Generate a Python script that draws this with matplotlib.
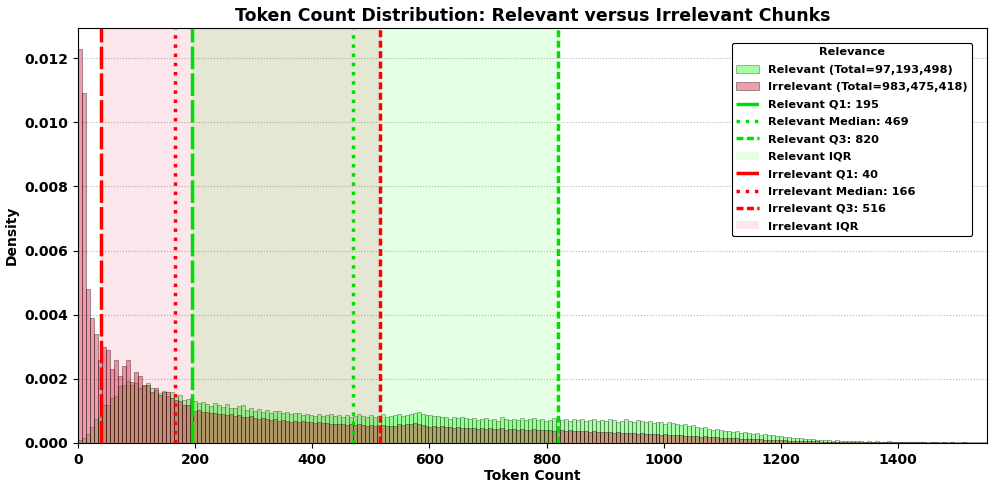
import matplotlib.pyplot as plt
import numpy as np

# histogram heights (density, x1e-4), bins of 6.8 tokens starting at 0
relevant = [
    1, 1.5, 2.7, 5, 7.4, 8, 11.8, 11.7, 14, 14.5, 17.7, 18.2, 19.3, 18.2, 18.6,
    17.2, 17.7, 18.6, 17.2, 16.5, 15.7, 16.2, 14.6, 16, 14.6, 15, 13.5, 13.7, 14, 13,
    12.6, 12.9, 12.2, 11.6, 12.5, 11.8, 11.3, 12.2, 11.0, 10.8, 11.5, 11.7, 10.4,
    10.9, 10.0, 10.6, 9.8, 10.3, 9.4, 9.9, 10.1, 9.2, 9.6, 9.0, 9.5, 9.4, 8.7, 9.1,
    8.8, 8.5, 9.0, 8.3, 8.7, 8.9, 8.4,
    8.6, 8.2, 8.8, 8.0, 8.4, 9.0, 8.3, 8.1, 8.6, 8.0, 8.5, 8.9, 8.2, 8.4, 8.7, 9.1,
    8.5, 8.8, 9.0, 9.4, 9.6, 9.0, 8.7, 8.7, 8.3, 8.5, 8.0, 8.2, 7.6, 8.0, 7.8, 8.1, 7.7,
    7.5, 7.9, 7.3, 7.6, 7.8, 7.2, 7.5, 7.0, 8.0, 7.4, 7.2, 7.6, 7.3, 7.7, 7.1, 7.4,
    7.8, 7.2, 7.6, 7.0, 7.3, 7.7, 7.5, 7.1, 7.4, 6.9, 7.6, 7.2, 7.5, 7.0, 7.3, 7.6, 6.9,
    7.2, 6.8, 7.5, 7.1, 6.7, 7.0, 7.4, 6.8, 6.6, 7.1, 6.9, 6.5, 6.8, 6.3, 6.7, 6.4,
    6.0, 6.5, 6.2, 5.8, 5.5, 6.0, 5.3, 5.6, 5.0, 4.7, 5.1, 4.5, 4.2, 4.4, 3.9, 3.7,
    3.8, 3.4, 3.6, 3.2, 3.4, 3.0, 2.8, 3.0, 2.6, 2.7, 2.4, 2.5, 2.1, 2.2, 1.9, 2.0,
    1.7, 1.5, 1.6, 1.3, 1.2, 1.3, 1.0, 0.9, 1.0, 0.8, 0.7, 0.9, 0.6, 0.7, 0.5, 0.6, 0.5,
    0.5, 0.4, 0.6, 0.4, 0.5, 0.3, 0.4, 0.5, 0.3, 0.4, 0.3, 0.4, 0.3, 0.4, 0.3, 0.3,
    0.4, 0.2, 0.3, 0.3, 0.2, 0.3, 0.3, 0.2, 0.2, 0.3, 0.2, 0.2, 0.2, 0.3, 0.2, 0.2,
]
irrelevant = [
    123, 109, 48, 39, 34, 26, 30, 29, 23, 26, 21, 24, 26, 19, 22, 21, 18, 18, 16, 17,
    15, 16, 16, 14, 13.5, 13, 12, 12, 11.5, 10,
    10.2, 9.6, 9.8, 9.2, 9.5, 8.9, 9.1, 8.7, 8.9, 8.4, 8.6, 8.2, 8.0, 8.3, 7.8, 7.6,
    7.9, 7.4, 7.2, 7.5, 7.0, 7.3, 6.9, 6.7, 7.0, 6.6, 6.8, 6.4, 6.5, 6.2, 6.4, 6.1,
    6.3, 5.9, 6.0,
    5.8, 6.0, 5.7, 5.9, 5.5, 5.8, 5.6, 5.4, 5.7, 5.3, 5.5, 5.6, 5.2, 5.4, 5.3, 5.8,
    5.5, 5.9, 6.0, 6.2, 5.9, 5.6, 5.3, 5.1, 5.3, 5.0, 5.2, 4.9, 5.0, 4.8, 4.9, 4.7, 4.8,
    4.6, 4.8, 4.5, 4.7, 4.4, 4.6, 4.3, 4.5, 4.6, 4.2, 4.4, 4.3, 4.1, 4.4, 4.2, 4.0,
    4.3, 4.1, 3.9, 4.2, 4.0, 3.8, 4.1, 3.9, 3.7, 3.9, 3.8, 3.6, 3.8, 3.6, 3.5, 3.7, 3.4,
    3.5, 3.3, 3.4, 3.2, 3.3, 3.1, 3.2, 3.0, 3.1, 2.9, 3.0, 2.8, 2.9, 2.7, 2.8, 2.6,
    2.7, 2.5, 2.6, 2.4, 2.5, 2.3, 2.2, 2.3, 2.1, 2.0, 2.1, 1.9, 1.8, 1.9, 1.7, 1.6,
    1.6, 1.5, 1.5, 1.4, 1.3, 1.3, 1.2, 1.2, 1.1, 1.0, 1.0, 0.9, 0.9, 0.8, 0.8, 0.7,
    0.7, 0.7, 0.6, 0.6, 0.5, 0.5, 0.5, 0.4, 0.4, 0.4, 0.4, 0.3, 0.3, 0.3, 0.3, 0.3, 0.3,
    0.3, 0.2, 0.3, 0.2, 0.2, 0.2, 0.3, 0.2, 0.2, 0.2, 0.2, 0.2, 0.2, 0.2, 0.2, 0.2,
    0.2, 0.1, 0.2, 0.2, 0.1, 0.2, 0.1, 0.2, 0.1, 0.1, 0.2, 0.1, 0.1, 0.1, 0.1, 0.1,
]
bin_width = 6.8

totals = {'Relevant': '97,193,498', 'Irrelevant': '983,475,418'}
rel_q = [195, 469, 820]   # Q1, median, Q3
irr_q = [40, 166, 516]

rel_h = np.array(relevant) * 1e-4
irr_h = np.array(irrelevant) * 1e-4
left = np.arange(len(rel_h)) * bin_width

fig = plt.figure(figsize=(9.96, 4.92), dpi=100)
ax = fig.add_axes([0.0783, 0.0996, 0.9127, 0.8435])

q1_style = (0, (6.5, 1.2))
q3_style = (0, (2, 1))

ax.bar(left, rel_h, width=bin_width, align='edge', color='lime', alpha=0.35,
       edgecolor='black', linewidth=0.6,
       label=f"Relevant (Total={totals['Relevant']})")
ax.bar(left, irr_h, width=bin_width, align='edge', color='crimson', alpha=0.42,
       edgecolor='black', linewidth=0.6,
       label=f"Irrelevant (Total={totals['Irrelevant']})")

for q, col, fill, name in [(rel_q, '#00dd00', 'lime', 'Relevant'),
                           (irr_q, '#ff0000', 'crimson', 'Irrelevant')]:
    ax.axvline(q[0], color=col, linestyle=q1_style, linewidth=2.5, label=f'{name} Q1: {q[0]}')
    ax.axvline(q[1], color=col, linestyle=':', linewidth=2.5, label=f'{name} Median: {q[1]}')
    ax.axvline(q[2], color=col, linestyle=q3_style, linewidth=2.5, label=f'{name} Q3: {q[2]}')
    ax.axvspan(q[0], q[2], color=fill, alpha=0.1, linewidth=0, label=f'{name} IQR')

ax.set_xlim(0, 1552)
ax.set_ylim(0, 0.01294)
ax.grid(True, axis='y', linestyle=':', color='gray', alpha=0.6)
ax.set_axisbelow(True)

ax.set_title('Token Count Distribution: Relevant versus Irrelevant Chunks',
             fontsize=12.5, fontweight='bold', pad=5)
ax.set_xlabel('Token Count', fontsize=10, fontweight='bold', labelpad=2)
ax.set_ylabel('Density', fontsize=10, fontweight='bold')
for lab in ax.get_xticklabels() + ax.get_yticklabels():
    lab.set_fontweight('bold')
ax.tick_params(labelsize=10)

# bars first in the legend, then the quartile lines and spans
h, l = ax.get_legend_handles_labels()
idx = [8, 9, 0, 1, 2, 3, 4, 5, 6, 7]
leg = ax.legend([h[i] for i in idx], [l[i] for i in idx], title='Relevance',
                loc='upper right', bbox_to_anchor=(0.99, 0.978),
                prop={'weight': 'bold', 'size': 8.2},
                title_fontproperties={'weight': 'bold', 'size': 8.2},
                labelspacing=0.65, framealpha=1, edgecolor='black')
leg.get_frame().set_linewidth(0.8)

plt.savefig('out.png', dpi=100)
